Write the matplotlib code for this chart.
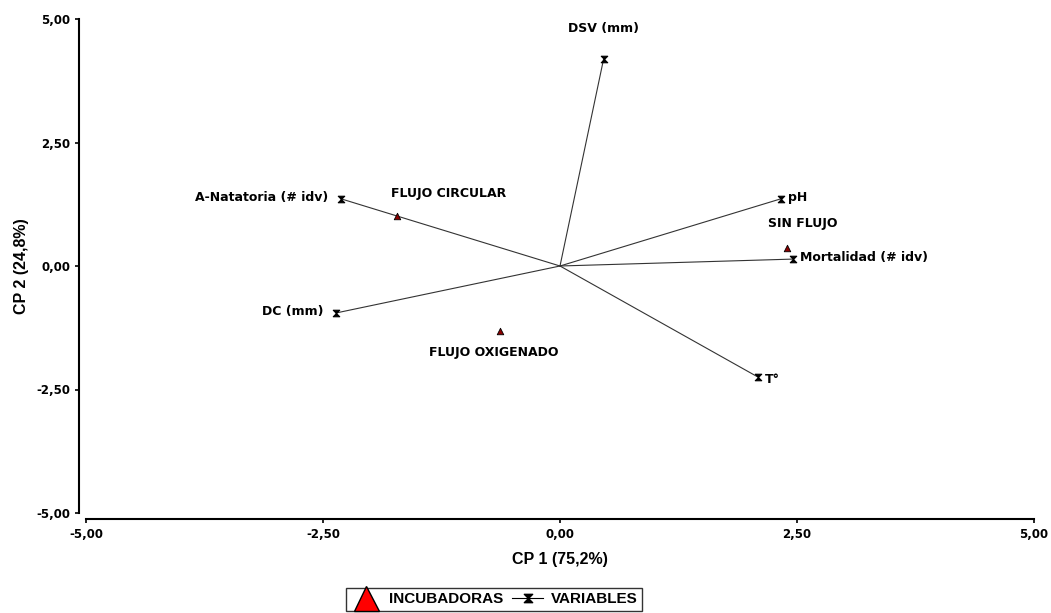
import matplotlib
matplotlib.use('Agg')
import matplotlib.pyplot as plt
from matplotlib.lines import Line2D
from matplotlib.path import Path

# Variables (loadings) of the biplot
VAR_NAMES = ["DSV (mm)", "pH", "Mortalidad (# idv)", "T°", "A-Natatoria (# idv)", "DC (mm)"]
VAR_X = [0.46, 2.33, 2.46, 2.09, -2.31, -2.36]
VAR_Y = [4.19, 1.36, 0.14, -2.25, 1.36, -0.95]

# Incubators (scores)
INC_NAMES = ["FLUJO CIRCULAR", "SIN FLUJO", "FLUJO OXIGENADO"]
INC_X = [-1.72, 2.39, -0.63]
INC_Y = [1.01, 0.36, -1.32]

TICKS = [-5.0, -2.5, 0.0, 2.5, 5.0]
TICK_LABELS = ["-5,00", "-2,50", "0,00", "2,50", "5,00"]

# hourglass marker
hourglass = Path([(-1, 1), (1, 1), (-1, -1), (1, -1), (-1, 1)],
                 [Path.MOVETO, Path.LINETO, Path.LINETO, Path.LINETO, Path.CLOSEPOLY])

plt.rcParams['font.family'] = 'DejaVu Sans'
plt.rcParams['font.weight'] = 'bold'

fig = plt.figure(figsize=(10.51, 6.13), dpi=100)
ax = fig.add_axes([86 / 1051, 1 - 513 / 613, 948 / 1051, 494 / 613])

for x, y in zip(VAR_X, VAR_Y):
    ax.plot([0, x], [0, y], color='#333333', lw=0.8, zorder=2)
ax.scatter(VAR_X, VAR_Y, marker=hourglass, s=22, facecolor='black',
           edgecolor='black', linewidths=0.8, zorder=3)
ax.scatter(INC_X, INC_Y, marker='^', s=22, facecolor='#8b0000',
           edgecolor='black', linewidths=0.6, zorder=3)

fs = 9
# variable labels
ax.annotate(VAR_NAMES[0], (VAR_X[0], VAR_Y[0]), xytext=(0, 17), textcoords='offset points',
            ha='center', va='bottom', fontsize=fs, fontweight='bold')
for i in [1, 2]:
    ax.annotate(VAR_NAMES[i], (VAR_X[i], VAR_Y[i]), xytext=(5, 1), textcoords='offset points',
                ha='left', va='center', fontsize=fs, fontweight='bold')
ax.annotate(VAR_NAMES[3], (VAR_X[3], VAR_Y[3]), xytext=(5, -2), textcoords='offset points',
            ha='left', va='center', fontsize=fs, fontweight='bold')
for i in [4, 5]:
    ax.annotate(VAR_NAMES[i], (VAR_X[i], VAR_Y[i]), xytext=(-9, 1), textcoords='offset points',
                ha='right', va='center', fontsize=fs, fontweight='bold')

# incubator labels
ax.annotate(INC_NAMES[0], (INC_X[0], INC_Y[0]), xytext=(37, 16), textcoords='offset points',
            ha='center', va='center', fontsize=fs, fontweight='bold')
ax.annotate(INC_NAMES[1], (INC_X[1], INC_Y[1]), xytext=(12, 18), textcoords='offset points',
            ha='center', va='center', fontsize=fs, fontweight='bold')
ax.annotate(INC_NAMES[2], (INC_X[2], INC_Y[2]), xytext=(-5, -15), textcoords='offset points',
            ha='center', va='center', fontsize=fs, fontweight='bold')

ax.set_xlim(-5, 5)
ax.set_ylim(-5, 5)
ax.set_xticks(TICKS)
ax.set_xticklabels(TICK_LABELS)
ax.set_yticks(TICKS)
ax.set_yticklabels(TICK_LABELS)
ax.tick_params(labelsize=8.5, length=3, width=1.2)
for lab in ax.get_xticklabels() + ax.get_yticklabels():
    lab.set_fontweight('bold')

ax.spines['top'].set_visible(False)
ax.spines['right'].set_visible(False)
ax.spines['left'].set_position(('outward', 5))
ax.spines['bottom'].set_position(('outward', 4))
ax.spines['left'].set_linewidth(1.5)
ax.spines['bottom'].set_linewidth(1.5)

ax.set_xlabel("CP 1 (75,2%)", fontsize=11.5, fontweight='bold', labelpad=8,
              family='Liberation Sans')
ax.set_ylabel("CP 2 (24,8%)", fontsize=11.5, fontweight='bold', labelpad=5,
              family='Liberation Sans')

handles = [
    Line2D([], [], marker='^', ls='none', markersize=18, markerfacecolor='red',
           markeredgecolor='black', markeredgewidth=1),
    Line2D([], [], marker=hourglass, color='black', lw=0.8, markersize=6,
           markerfacecolor='black', markeredgecolor='black'),
]
leg = fig.legend(handles, ["INCUBADORAS", "VARIABLES"], loc='upper center',
                 bbox_to_anchor=(494 / 1051, 1 - 580 / 613), ncol=2, frameon=True,
                 fancybox=False, edgecolor='black',
                 prop={'weight': 'bold', 'size': 11, 'family': 'Liberation Sans'},
                 handlelength=2.0, columnspacing=0.6, borderpad=0.3, handletextpad=0.5)
leg.get_frame().set_linewidth(1.0)

fig.savefig('out.png', dpi=100)
